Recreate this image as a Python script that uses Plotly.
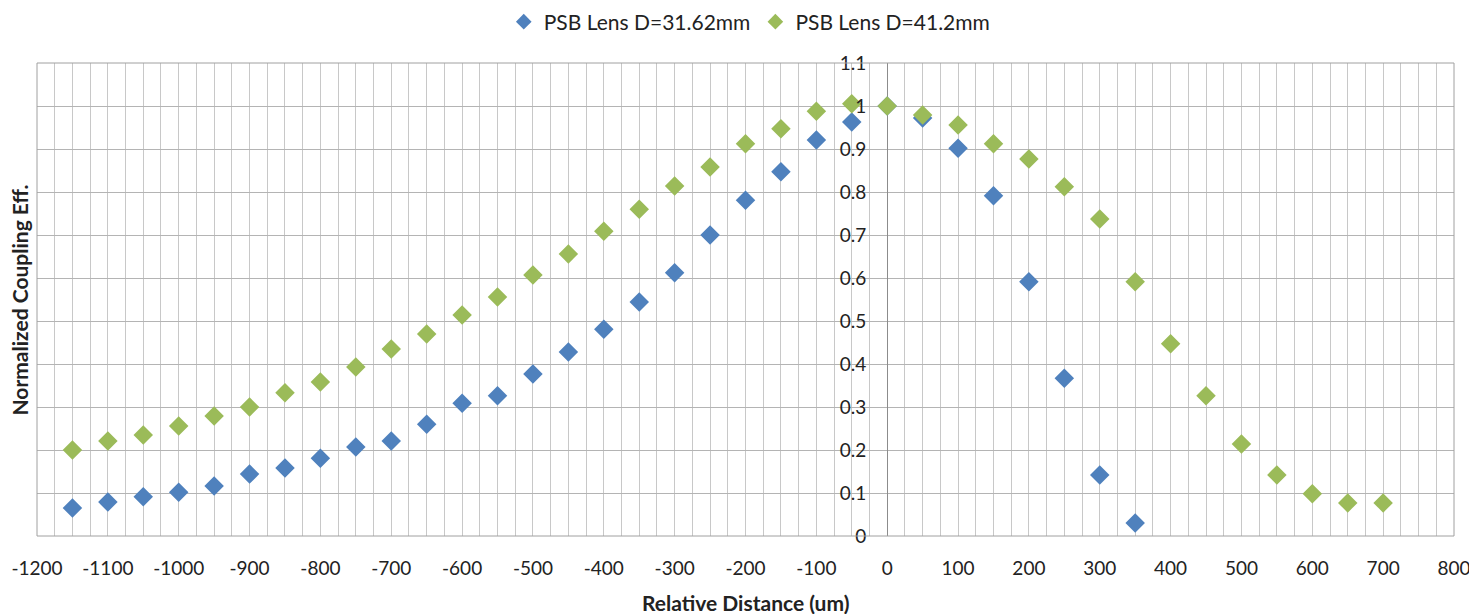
import plotly.graph_objects as go

x_blue = [-1150, -1100, -1050, -1000, -950, -900, -850, -800, -750, -700, -650, -600,
          -550, -500, -450, -400, -350, -300, -250, -200, -150, -100, -50, 0,
          50, 100, 150, 200, 250, 300, 350]
y_blue = [0.065, 0.079, 0.091, 0.102, 0.116, 0.144, 0.158, 0.181, 0.207, 0.221, 0.260, 0.309,
          0.326, 0.377, 0.428, 0.481, 0.544, 0.612, 0.700, 0.781, 0.847, 0.921, 0.963, 1.0,
          0.972, 0.902, 0.791, 0.591, 0.367, 0.142, 0.030]

x_green = [-1150, -1100, -1050, -1000, -950, -900, -850, -800, -750, -700, -650, -600,
           -550, -500, -450, -400, -350, -300, -250, -200, -150, -100, -50, 0,
           50, 100, 150, 200, 250, 300, 350, 400, 450, 500, 550, 600, 650, 700]
y_green = [0.200, 0.221, 0.235, 0.256, 0.279, 0.300, 0.333, 0.358, 0.393, 0.435, 0.470, 0.514,
           0.556, 0.607, 0.656, 0.709, 0.760, 0.814, 0.858, 0.912, 0.947, 0.988, 1.005, 1.0,
           0.979, 0.956, 0.912, 0.877, 0.812, 0.737, 0.591, 0.447, 0.326, 0.214, 0.142, 0.098, 0.077, 0.077]

x_tickvals = [-1200, -1100, -1000, -900, -800, -700, -600, -500, -400, -300, -200, -100,
              0, 100, 200, 300, 400, 500, 600, 700, 800]
x_ticktext = ["-1200", "-1100", "-1000", "-900", "-800", "-700", "-600", "-500", "-400", "-300",
              "-200", "-100", "0", "100", "200", "300", "400", "500", "600", "700", "800"]

name_blue = "PSB Lens D=31.62mm"
name_green = "PSB Lens D=41.2mm"
x_title = "Relative Distance (um)"
y_title = "Normalized Coupling Eff."

FONT = "Lato"
grid = "#c8c8c8"

# the page body has an 8px default margin; size the figure so the plot area lands
# where the reference has it inside the 1477x614 window
W, H = 1469, 606
L, T = 29, 55
PW, PH = 1417, 473

fig = go.Figure()
fig.add_trace(go.Scatter(x=x_blue, y=y_blue, mode="markers", name=name_blue,
                         marker=dict(symbol="diamond", size=15, color="#4F81BD")))
fig.add_trace(go.Scatter(x=x_green, y=y_green, mode="markers", name=name_green,
                         marker=dict(symbol="diamond", size=15, color="#9BBB59")))

fig.update_layout(
    width=W, height=H,
    margin=dict(l=L, r=W - L - PW, t=T, b=H - T - PH, autoexpand=False),
    paper_bgcolor="white", plot_bgcolor="white",
    font=dict(family=FONT, size=19, color="#222"),
    showlegend=True,
    legend=dict(orientation="h", x=0.503, xanchor="center", y=1 - 14 / H, yanchor="middle",
                yref="container", font=dict(size=21), itemsizing="constant"),
    xaxis=dict(range=[-1200, 800], tickvals=x_tickvals, ticktext=x_ticktext,
               showgrid=True, gridcolor=grid, gridwidth=1,
               zeroline=True, zerolinecolor="#8c8c8c", zerolinewidth=1,
               minor=dict(dtick=25, tick0=0, showgrid=True, gridcolor=grid, gridwidth=1),
               ticks="", ticklabelstandoff=19, ticklabeloverflow="allow",
               showline=False, automargin=False),
    yaxis=dict(range=[0, 1.1], dtick=0.1, tick0=0, showgrid=True, gridcolor="#b4b4b4",
               zeroline=False, anchor="free", position=0.6, side="left",
               ticks="", ticklabelstandoff=21, showline=False, automargin=False),
)

fig.add_shape(type="rect", xref="paper", yref="paper", x0=0, x1=1, y0=0, y1=1,
              line=dict(color="#a0a0a0", width=1), layer="above")
fig.add_annotation(text="<b>" + y_title + "</b>", xref="paper", yref="paper",
                   x=-0.012, y=0.5, xanchor="center", yanchor="middle", textangle=-90,
                   showarrow=False, font=dict(size=21, family=FONT, color="#222"))
fig.add_annotation(text="<b>" + x_title + "</b>", xref="paper", yref="paper",
                   x=0.5, y=-66 / PH, xanchor="center", yanchor="middle",
                   showarrow=False, font=dict(size=21, family=FONT, color="#222"))

fig.write_html("out.html")
